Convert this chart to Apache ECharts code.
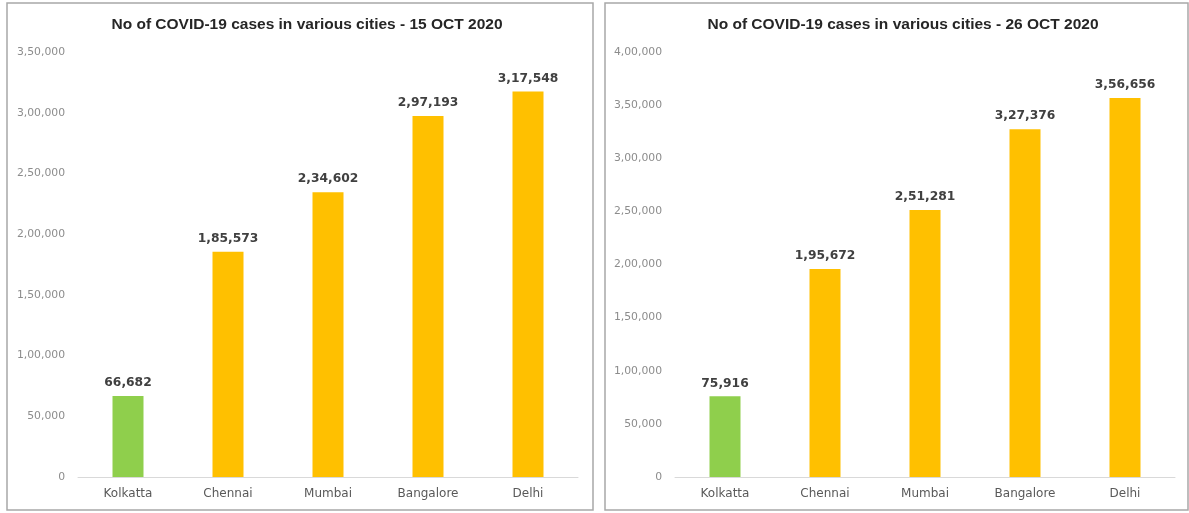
<!DOCTYPE html>
<html>
<head>
<meta charset="utf-8">
<style>
  html, body { margin: 0; padding: 0; background: #ffffff; }
  #chart { width: 1189px; height: 513px; }
</style>
<script src="https://cdn.jsdelivr.net/npm/echarts@6/dist/echarts.min.js"></script>
</head>
<body>
<div id="chart"></div>
<script>
// Cities and confirmed COVID-19 case counts on two dates
const cities = ['Kolkatta', 'Chennai', 'Mumbai', 'Bangalore', 'Delhi'];
const cases15Oct = [66682, 185573, 234602, 297193, 317548];
const cases26Oct = [75916, 195672, 251281, 327376, 356656];
const titles = [
  'No of COVID-19 cases in various cities - 15 OCT 2020',
  'No of COVID-19 cases in various cities - 26 OCT 2020'
];
const axisMax = [350000, 400000];
const axisStep = 50000;
const highlightCity = 'Kolkatta';

const GREEN = '#8fcf4c';
const AMBER = '#ffc000';

// Indian digit grouping: 3,50,000 / 1,85,573
function inr(v) {
  const s = String(Math.round(v));
  if (s.length <= 3) return s;
  const last3 = s.slice(-3);
  const rest = s.slice(0, -3).replace(/\B(?=(\d{2})+(?!\d))/g, ',');
  return rest + ',' + last3;
}

const FONT = '"DejaVu Sans", "Liberation Sans", sans-serif';

const panels = [
  { grid: { left: 78, right: 611, top: 52, bottom: 36 }, center: 302, data: cases15Oct },
  { grid: { left: 675, right: 14, top: 52, bottom: 36 }, center: 898, data: cases26Oct }
];

const option = {
  animation: false,
  backgroundColor: '#ffffff',
  title: panels.map((p, i) => ({
    text: titles[i],
    left: p.center,
    top: 12,
    textAlign: 'center',
    textStyle: { fontFamily: '"Liberation Sans", sans-serif', fontWeight: 'bold', fontSize: 15.5, color: '#262626' }
  })),
  graphic: [
    { type: 'rect', shape: { x: 7, y: 3, width: 586, height: 507 }, style: { fill: 'none', stroke: '#a8a8a8', lineWidth: 1.5 }, silent: true },
    { type: 'rect', shape: { x: 605, y: 3, width: 583, height: 507 }, style: { fill: 'none', stroke: '#a8a8a8', lineWidth: 1.5 }, silent: true }
  ],
  grid: panels.map(p => Object.assign({ containLabel: false }, p.grid)),
  xAxis: panels.map((p, i) => ({
    type: 'category',
    gridIndex: i,
    data: cities,
    axisTick: { show: false },
    axisLine: { lineStyle: { color: '#d9d9d9', width: 1 } },
    axisLabel: { margin: 11, fontFamily: FONT, fontSize: 12, color: '#595959' }
  })),
  yAxis: panels.map((p, i) => ({
    type: 'value',
    gridIndex: i,
    min: 0,
    max: axisMax[i],
    interval: axisStep,
    splitLine: { show: false },
    axisLine: { show: false },
    axisTick: { show: false },
    axisLabel: { margin: 13, fontFamily: FONT, fontSize: 10.8, color: '#8c8c8c', formatter: inr }
  })),
  series: panels.map((p, i) => ({
    type: 'bar',
    xAxisIndex: i,
    yAxisIndex: i,
    barWidth: 31,
    data: p.data.map((v, k) => ({
      value: v,
      itemStyle: { color: cities[k] === highlightCity ? GREEN : AMBER }
    })),
    label: {
      show: true,
      position: 'top',
      distance: 7,
      fontFamily: FONT,
      fontWeight: 'bold',
      fontSize: 12.3,
      color: '#404040',
      formatter: d => inr(d.value)
    }
  }))
};

echarts.init(document.getElementById('chart'), null, { renderer: 'canvas' }).setOption(option);
</script>
</body>
</html>
